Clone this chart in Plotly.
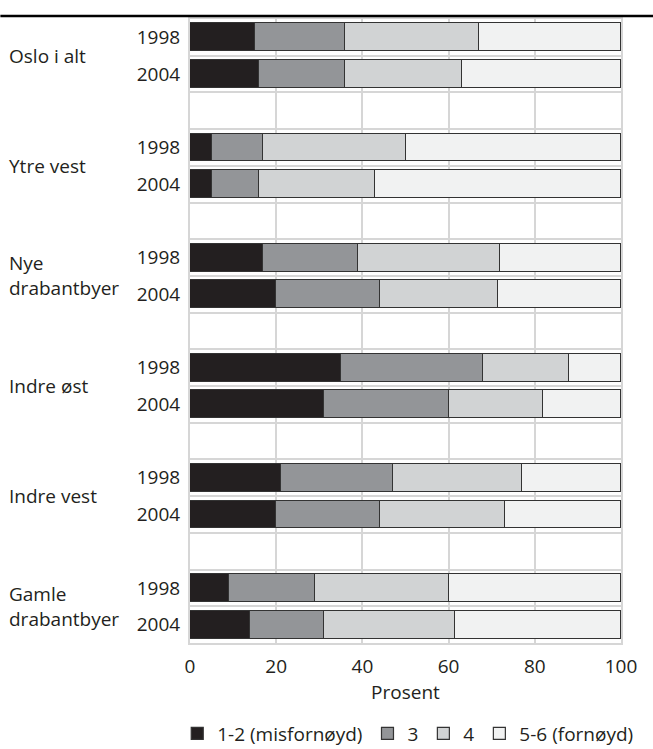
import plotly.graph_objects as go

groups = ["Oslo i alt", "Ytre vest", "Nye drabantbyer", "Indre øst", "Indre vest", "Gamle drabantbyer"]
years = ["1998", "2004"]
series_names = ["1-2 (misfornøyd)", "3", "4", "5-6 (fornøyd)"]

# values per group: [1998, 2004]
v_12 = [[15, 16], [5, 5], [17, 20], [35, 31], [21, 20], [9, 14]]
v_3 = [[21, 20], [12, 11], [22, 24], [33, 29], [26, 24], [20, 17]]
v_4 = [[31, 27], [33, 27], [33, 27.5], [20, 22], [30, 29], [31, 30.5]]
v_56 = [[33, 37], [50, 57], [28, 28.5], [12, 18], [23, 27], [40, 38.5]]

colors = ["#231f20", "#939598", "#d1d3d4", "#f1f2f2"]
xticks = [0, 20, 40, 60, 80, 100]

FONT = "Open Sans"
TXT = "#231f20"
GRID = "#d6d6d6"

# slot positions: each group has 1998, 2004, blank
ypos, ylab = [], []
for gi in range(len(groups)):
    for yi, yr in enumerate(years):
        ypos.append(gi * 3 + yi)
        ylab.append(yr)

fig = go.Figure()
for name, vals, col in zip(series_names, [v_12, v_3, v_4, v_56], colors):
    xs = [vals[gi][yi] for gi in range(len(groups)) for yi in range(len(years))]
    fig.add_trace(go.Bar(
        x=xs, y=ypos, orientation="h", name=name, width=0.76,
        marker=dict(color=col, line=dict(color="#333333", width=1.2)),
        hoverinfo="skip",
    ))

# group labels
for gi, g in enumerate(groups):
    center = gi * 3 + 0.5
    words = g.split(" ")
    if g.endswith("drabantbyer"):
        text = " ".join(words[:-1]) + "<br>" + words[-1]
    else:
        text = g
    fig.add_annotation(
        x=0, xref="paper", xshift=-183, xanchor="left", align="left",
        y=center, yref="y", yanchor="middle",
        text=text, showarrow=False,
        font=dict(family=FONT, size=19, color=TXT),
    )

# top rule
fig.add_shape(type="line", xref="paper", yref="paper",
              x0=-0.44, x1=1.08, y0=1.0048, y1=1.0048,
              line=dict(color="#000000", width=2.5))

minor_vals = [i - 0.5 for i in range(18)]

fig.update_layout(
    width=653, height=749,
    margin=dict(l=190, r=32, t=19, b=106, autoexpand=False),
    paper_bgcolor="white", plot_bgcolor="white",
    barmode="stack", bargap=0,
    font=dict(family=FONT, size=19, color=TXT),
    showlegend=True,
    legend=dict(orientation="h", xanchor="right", x=1.04, yanchor="middle", y=-0.145,
                font=dict(family=FONT, size=19, color=TXT), traceorder="normal",
                itemwidth=30, tracegroupgap=0, bgcolor="rgba(0,0,0,0)"),
    xaxis=dict(range=[0, 100], tickvals=xticks, ticktext=[str(t) for t in xticks],
               automargin=False,
               showgrid=True, gridcolor=GRID, gridwidth=2, zeroline=False,
               showline=True, linecolor=GRID, linewidth=2, mirror=True,
               ticks="", ticklabelstandoff=5, tickfont=dict(size=19, color=TXT),
               title=dict(text="Prosent", font=dict(size=19, color=TXT), standoff=0)),
    yaxis=dict(range=[16.5, -0.5], tickvals=ypos, ticktext=ylab,
               automargin=False,
               showgrid=False, zeroline=False,
               showline=True, linecolor=GRID, linewidth=2, mirror=True,
               ticks="", ticklabelstandoff=4, tickfont=dict(size=19, color=TXT),
               minor=dict(tickmode="array", tickvals=minor_vals, showgrid=True,
                          gridcolor=GRID, gridwidth=2, ticks="")),
)

fig.write_html("out.html", config={"displayModeBar": False},
               post_script="document.body.style.margin='0';document.body.style.overflow='hidden';")
